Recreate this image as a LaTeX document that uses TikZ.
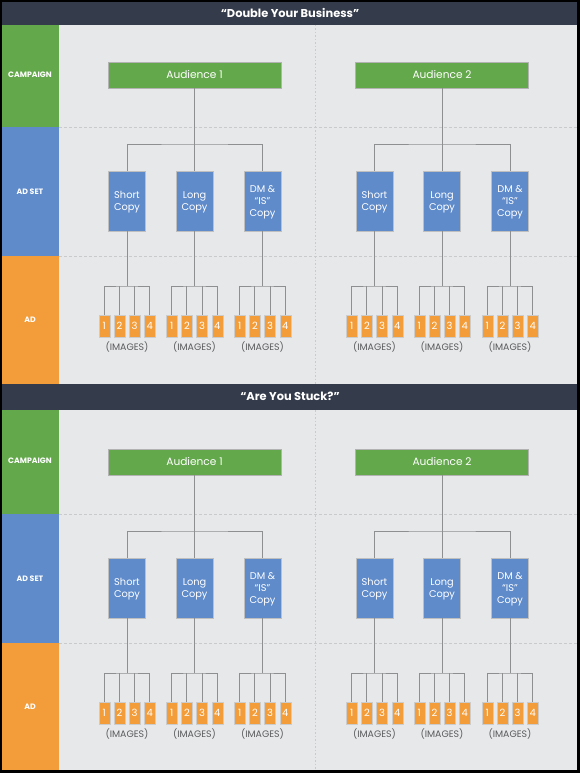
\documentclass[tikz,border=0pt]{standalone}
\usepackage{fontspec}
\setmainfont{Poppins}
\definecolor{hdrc}{HTML}{343B4A}
\definecolor{bgc}{HTML}{E7E8E9}
\definecolor{campc}{HTML}{64A84C}
\definecolor{setc}{HTML}{5F8BCB}
\definecolor{adc}{HTML}{F39C3A}
\definecolor{linec}{HTML}{8E8F91}
\definecolor{sepc}{HTML}{C9CACC}
\definecolor{imgtxt}{HTML}{5A5B5D}
\newcommand\mystack[1]{\begin{tabular}[t]{@{}c@{}}#1\end{tabular}}
\begin{document}
\begin{tikzpicture}[x=1pt,y=-1pt,
  hdrtext/.style={text=white,font=\bfseries\fontsize{11.4}{13}\selectfont,inner sep=0pt,text height=7.9pt,text depth=0pt},
  lbl/.style={text=white,font=\bfseries\fontsize{7.8}{9}\selectfont,inner sep=0pt,text height=5.4pt,text depth=0pt},
  audbox/.style={fill=campc,draw=black!30,line width=0.4pt,minimum width=173pt,minimum height=26pt,inner sep=0pt,text=white,font=\fontsize{10.6}{13}\selectfont,text height=7.4pt,text depth=0pt},
  setbox/.style={fill=setc,draw=black!25,line width=0.4pt,minimum width=37pt,minimum height=60pt,inner sep=0pt,text=white,font=\fontsize{9.8}{12}\selectfont,text height=6.8pt},
  imgbox/.style={fill=adc,draw=black!20,line width=0.3pt,minimum width=11pt,minimum height=22pt,inner sep=0pt,text=white,font=\fontsize{10}{10}\selectfont,text height=7pt,text depth=0pt},
  imglbl/.style={text=imgtxt,font=\fontsize{9.4}{10}\selectfont,inner sep=0pt,text height=6.5pt,text depth=0pt},
  conn/.style={draw=linec,line width=0.85pt},
  dashline/.style={draw=sepc,line width=0.6pt,dash pattern=on 3pt off 2pt},
  dotline/.style={draw=sepc,line width=0.8pt,dash pattern=on 1.5pt off 2pt}]
\useasboundingbox (0,0) rectangle (580,773);
\fill[black] (0,0) rectangle (580,773);
\foreach \p/\htop/\hbot/\ra/\rb/\pe/\oy/\ttl in {1/2/25/127/256/384/0/{“Double Your Business”},2/384/410/514/643/770/387/{“Are You Stuck?”}}{
  \fill[hdrc] (2,\htop) rectangle (577,\hbot);
  \node[hdrtext] (title-\p) at (290,{(\htop+\hbot)/2}) {\ttl};
  \fill[bgc] (59,\hbot) rectangle (577,\pe);
  \fill[campc] (2,\hbot) rectangle (59,\ra);
  \fill[setc] (2,\ra) rectangle (59,\rb);
  \fill[adc] (2,\rb) rectangle (59,\pe);
  \node[lbl] (lc-\p) at (30,{(\hbot+\ra)/2-1}) {CAMPAIGN};
  \node[lbl] (ls-\p) at (30,{(\ra+\rb)/2}) {AD SET};
  \node[lbl] (la-\p) at (30,{(\rb+\pe)/2}) {AD};
  \draw[dashline] (59,\ra) -- (577,\ra);
  \draw[dashline] (59,\rb) -- (577,\rb);
  \draw[dotline] (315,\hbot) -- (315,\pe);
  \foreach \a/\ax in {1/194.5,2/442}{
    \node[audbox] (aud-\p-\a) at (\ax,75+\oy) {Audience \a};
    \coordinate (bar-\p-\a) at (\ax,144+\oy);
    \foreach \s/\off/\dep/\txt in {1/-67.5/12pt/{Short\\Copy},2/0/12pt/{Long\\Copy},3/68/24pt/{DM \&\\“IS”\\Copy}}{
      \node[setbox,text depth=\dep] (set-\p-\a-\s) at (\ax+\off,201+\oy) {\mystack{\txt}};
      \coordinate (ib-\p-\a-\s) at (\ax+\off,286+\oy);
      \foreach \i/\io in {1/-22.7,2/-7.6,3/7.6,4/22.7}{
        \node[imgbox] (img-\p-\a-\s-\i) at (\ax+\off+\io,326+\oy) {\i};
      }
      \node[imglbl] (il-\p-\a-\s) at (\ax+\off,347+\oy) {(IMAGES)};
      \draw[conn] (set-\p-\a-\s.south) -- (ib-\p-\a-\s);
      \draw[conn] (img-\p-\a-\s-1.north) |- (ib-\p-\a-\s) -| (img-\p-\a-\s-4.north);
      \draw[conn] (img-\p-\a-\s-2.north) -- (img-\p-\a-\s-2.north |- ib-\p-\a-\s);
      \draw[conn] (img-\p-\a-\s-3.north) -- (img-\p-\a-\s-3.north |- ib-\p-\a-\s);
    }
    \draw[conn] (aud-\p-\a.south) -- (bar-\p-\a);
    \draw[conn] (set-\p-\a-1.north) |- (bar-\p-\a) -| (set-\p-\a-3.north);
    \draw[conn] (bar-\p-\a) -- (set-\p-\a-2.north);
  }
}
\end{tikzpicture}
\end{document}
